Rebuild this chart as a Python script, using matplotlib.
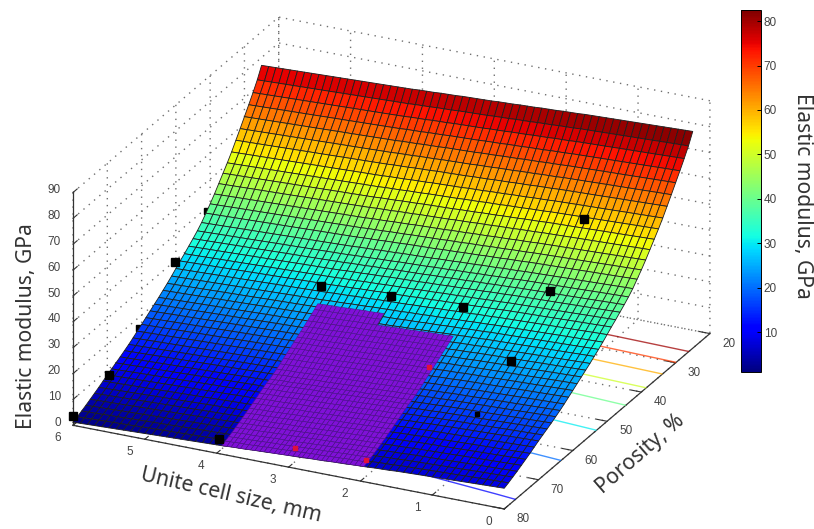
"""Elastic modulus surface over unit cell size and porosity."""

import numpy as np
import matplotlib
matplotlib.use('Agg')
import matplotlib.pyplot as plt
from matplotlib.cm import ScalarMappable
from matplotlib.colors import Normalize
from mpl_toolkits.mplot3d import Axes3D, proj3d  # noqa: F401

# surface grid
cell_size = [0.0, 0.1, 0.2, 0.3, 0.4, 0.5, 0.6, 0.7, 0.8, 0.9,
             1.0, 1.1, 1.2, 1.3, 1.4, 1.5, 1.6, 1.7, 1.8, 1.9,
             2.0, 2.1, 2.2, 2.3, 2.4, 2.5, 2.6, 2.7, 2.8, 2.9,
             3.0, 3.1, 3.2, 3.3, 3.4, 3.5, 3.6, 3.7, 3.8, 3.9,
             4.0, 4.1, 4.2, 4.3, 4.4, 4.5, 4.6, 4.7, 4.8, 4.9,
             5.0, 5.1, 5.2, 5.3, 5.4, 5.5, 5.6, 5.7, 5.8, 5.9, 6.0]
size_gain = [6.8, 6.7, 6.6, 6.5, 6.4, 6.3, 6.2, 6.1, 6.0, 5.9,
             5.8, 5.7, 5.6, 5.5, 5.4, 5.3, 5.1, 5.0, 4.9, 4.7,
             4.6, 4.5, 4.3, 4.2, 4.1, 3.9, 3.8, 3.7, 3.5, 3.4,
             3.3, 3.2, 3.1, 2.9, 2.8, 2.7, 2.5, 2.4, 2.3, 2.1,
             2.0, 1.9, 1.8, 1.7, 1.6, 1.5, 1.4, 1.3, 1.2, 1.1,
             1.0, 0.9, 0.8, 0.7, 0.6, 0.5, 0.4, 0.3, 0.2, 0.1, 0.0]
porosity = [25.0, 26.25, 27.5, 28.75, 30.0, 31.25, 32.5, 33.75, 35.0, 36.25,
            37.5, 38.75, 40.0, 41.25, 42.5, 43.75, 45.0, 46.25, 47.5, 48.75,
            50.0, 51.25, 52.5, 53.75, 55.0, 56.25, 57.5, 58.75, 60.0, 61.25,
            62.5, 63.75, 65.0, 66.25, 67.5, 68.75, 70.0, 71.25, 72.5, 73.75,
            75.0, 76.25, 77.5, 78.75, 80.0]
modulus_6mm = [77.0, 72.8, 69.3, 66.0, 62.8, 59.6, 56.5, 53.4, 50.6, 48.0,
               45.4, 42.8, 40.4, 38.2, 36.0, 34.2, 32.6, 31.1, 29.6, 28.2,
               26.7, 25.2, 23.8, 22.5, 21.2, 20.0, 18.8, 17.6, 16.4, 15.2,
               14.0, 12.9, 11.9, 10.9, 10.0, 9.1, 8.2, 7.2, 6.2, 5.3,
               4.4, 3.5, 2.7, 1.9, 1.2]
contour_levels = [10, 20, 30, 40, 50, 60, 70, 80]

# purple region
patch_size = [3.93, 3.86, 3.80, 3.73, 3.67, 3.60, 3.53, 3.47, 3.40, 3.34, 3.27, 3.20, 3.14, 3.07, 3.01,
              2.94, 2.87, 2.81, 2.74, 2.67, 2.61, 2.54, 2.48, 2.41, 2.34, 2.28, 2.21, 2.15, 2.08, 2.01, 1.95]
patch_gain = [2.1, 2.2, 2.3, 2.4, 2.4, 2.5, 2.6, 2.7, 2.8, 2.9, 3.0, 3.0, 3.1, 3.2, 3.3,
              3.4, 3.5, 3.6, 3.7, 3.8, 3.8, 3.9, 4.0, 4.1, 4.2, 4.3, 4.4, 4.4, 4.5, 4.6, 4.7]
patch_porosity = [52, 53, 54, 55, 56, 57, 58, 59, 60, 61, 62, 63, 64, 65, 66,
                  67, 68, 69, 70, 71, 72, 73, 74, 75, 76, 77, 78, 79, 80]
patch_modulus = [24.4, 23.3, 22.2, 21.2, 20.2, 19.3, 18.3, 17.4, 16.4, 15.5, 14.6, 13.6, 12.7, 11.9, 11.1,
                 10.6, 9.8, 9.0, 8.2, 7.4, 6.6, 5.9, 5.1, 4.4, 3.7, 3.0, 2.4, 1.8, 1.2]

# measured points
point_size = [6, 6, 6, 4, 4, 3, 2, 1, 1, 1]
point_porosity = [80, 69.5, 50.3, 79.4, 49.7, 50, 50, 45.6, 35.7, 57]
point_modulus = [3.5, 7.4, 29.6, 4.7, 30.5, 32.2, 33.4, 40, 56.5, 25.8]
partial_size = [6, 6]
partial_porosity = [60.8, 41]
partial_modulus = [16, 38.6]
small_size = [1]
small_porosity = [66.9]
small_modulus = [16.5]
red_size = [3, 2, 2]
red_porosity = [78.25, 78.5, 60]
red_modulus = [5.5, 6.6, 21.4]

size_ticks = [0, 1, 2, 3, 4, 5, 6]
porosity_ticks = [20, 30, 40, 50, 60, 70, 80]
modulus_ticks = [0, 10, 20, 30, 40, 50, 60, 70, 80, 90]
colorbar_ticks = [10, 20, 30, 40, 50, 60, 70, 80]

TICK_COLOR = '#444444'
AXIS_COLOR = '#333333'
WIDTH, HEIGHT = 814, 529

plt.rcParams['font.family'] = ['Liberation Sans', 'DejaVu Sans']
plt.rcParams['grid.linestyle'] = (0, (1, 4))
plt.rcParams['grid.linewidth'] = 1.0
plt.rcParams['grid.color'] = '#707070'

fig = plt.figure(figsize=(WIDTH / 100, HEIGHT / 100), dpi=100)
ax = fig.add_axes([31.5 / WIDTH, -94 / HEIGHT, 701 / WIDTH, 701 / HEIGHT], projection='3d', computed_zorder=False)
ax.set_proj_type('ortho')
ax.view_init(elev=24, azim=115.5)
ax.set_box_aspect((478, 478, 255))
ax.patch.set_alpha(0)

norm = Normalize(1, 82.5)
size_grid, porosity_grid = np.meshgrid(cell_size, porosity)
modulus_grid = np.add.outer(modulus_6mm, size_gain)

ax.contour(size_grid, porosity_grid, modulus_grid, levels=contour_levels, zdir='z', offset=0,
           cmap='jet', norm=norm, linewidths=1.0, alpha=0.75, zorder=1)
ax.plot_surface(size_grid, porosity_grid, modulus_grid, rstride=1, cstride=1, cmap='jet', norm=norm,
                edgecolor='#1e1e1e', linewidth=0.6, antialiased=True, shade=False, zorder=2)

# purple region has a small step in its far edge at 3 mm
for cols, rows in ((slice(0, 15), slice(0, None)), (slice(14, None), slice(2, None))):
    patch_x, patch_y = np.meshgrid(patch_size[cols], patch_porosity[rows])
    patch_z = np.add.outer(patch_modulus[rows], patch_gain[cols])
    ax.plot_surface(patch_x, patch_y, patch_z, rstride=1, cstride=1, color='#8010d8',
                    edgecolor='#4e1585', linewidth=0.4, shade=False, zorder=3)

ax.plot(red_size, red_porosity, red_modulus, ls='none', marker='s', ms=2.5, color='#e0103a', zorder=4)
ax.plot(partial_size, partial_porosity, partial_modulus, ls='none', marker='s', ms=4, color='black', zorder=1.5)
ax.plot(small_size, small_porosity, small_modulus, ls='none', marker='s', ms=3.5, color='black', zorder=5)
ax.plot(point_size, point_porosity, point_modulus, ls='none', marker='s', ms=6, color='black', zorder=5)

ax.set_xlim(0, 6, view_margin=0)
ax.set_ylim(20, 80, view_margin=0)
ax.set_zlim(0, 90, view_margin=0)
ax.set_xticks(size_ticks)
ax.set_yticks(porosity_ticks)
ax.set_zticks(modulus_ticks)
ax.zaxis.set_ticks_position('upper')
ax.tick_params(colors=AXIS_COLOR)

for axis, outward in ((ax.xaxis, 0.2), (ax.yaxis, 0.3), (ax.zaxis, 0.25)):
    axis.set_pane_color((1, 1, 1, 0))
    axis.pane.set_edgecolor('none')
    axis.line.set_color(AXIS_COLOR)
    axis.line.set_linewidth(0.9)
    axis._axinfo['tick']['inward_factor'] = 0
    axis._axinfo['tick']['outward_factor'] = outward
    axis.set_major_formatter('')


def tick_label(x, y, z, text, ha='center'):
    """Put a tick label just outside the box, given in data coordinates."""
    view_x, view_y, _ = proj3d.proj_transform(x, y, z, ax.get_proj())
    ax.text2D(view_x, view_y, text, transform=ax.transData, ha=ha, va='center', fontsize=8.5, color=TICK_COLOR)


for value in size_ticks:
    tick_label(value, 84.5, 0, str(value))
for value in porosity_ticks:
    tick_label(-0.26, value, -2.5, str(value))
for value in modulus_ticks:
    tick_label(6.17, 80, value, str(value), ha='right')

# colorbar on the right
cax = fig.add_axes([741 / WIDTH, 1 - 372 / HEIGHT, 20 / WIDTH, 362 / HEIGHT])
cbar = fig.colorbar(ScalarMappable(norm=norm, cmap='jet'), cax=cax, ticks=colorbar_ticks)
cbar.ax.tick_params(direction='in', length=3, width=0.7, labelsize=8.5, labelcolor=TICK_COLOR, pad=2)
cbar.outline.set_linewidth(0.7)

LABEL = {'family': ['Noto Sans', 'DejaVu Sans'], 'color': '#333333', 'fontsize': 15.2, 'ha': 'center', 'va': 'center'}
fig.text(27 / WIDTH, 1 - 326 / HEIGHT, 'Elastic modulus, GPa', rotation=90, **LABEL)
fig.text(803 / WIDTH, 1 - 196 / HEIGHT, 'Elastic modulus, GPa', rotation=270, **LABEL)
fig.text(231 / WIDTH, 1 - 496 / HEIGHT, 'Unite cell size, mm', rotation=-13, rotation_mode='anchor', **LABEL)
fig.text(640 / WIDTH, 1 - 454 / HEIGHT, 'Porosity, %', rotation=41, rotation_mode='anchor', **LABEL)

fig.savefig('out.png', dpi=100, facecolor='white')
